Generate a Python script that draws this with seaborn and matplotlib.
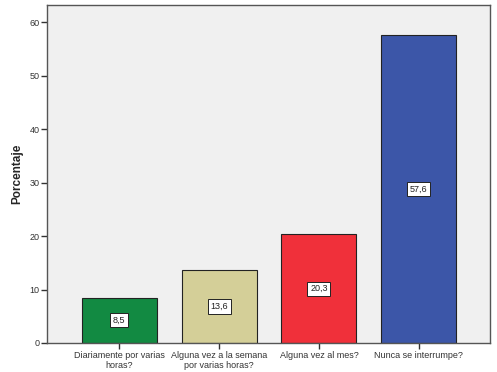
import matplotlib
matplotlib.use("Agg")
import matplotlib.pyplot as plt
import seaborn as sns
import pandas as pd

categories = [
    "Diariamente por varias\nhoras?",
    "Alguna vez a la semana\npor varias horas?",
    "Alguna vez al mes?",
    "Nunca se interrumpe?",
]
percentages = [8.5, 13.6, 20.3, 57.6]
value_labels = ["8,5", "13,6", "20,3", "57,6"]
bar_colors = ["#128a42", "#d4cf98", "#f0303a", "#3c56a8"]

df = pd.DataFrame({"categoria": categories, "porcentaje": percentages})

sns.set_style("white")
plt.rcParams["font.family"] = ["Liberation Sans", "DejaVu Sans"]

fig = plt.figure(figsize=(4.97, 3.72), dpi=100)
ax = fig.add_axes([47 / 497, (372 - 343) / 372, 443 / 497, 338 / 372])
ax.set_facecolor("#f0f0f0")

sns.barplot(data=df, x="categoria", y="porcentaje", hue="categoria",
            palette=bar_colors, saturation=1, width=0.75, edgecolor="#222222",
            linewidth=0.8, legend=False, ax=ax)

for i, (v, lab) in enumerate(zip(percentages, value_labels)):
    ax.text(i, v / 2, lab, ha="center", va="center", fontsize=6.5, color="#222222",
            bbox=dict(boxstyle="square,pad=0.3", fc="white", ec="#222222", lw=0.7))

ax.set_xlim(-0.725, 3.715)
ax.set_ylim(0, 63.2)
ax.set_yticks([0, 10, 20, 30, 40, 50, 60])
ax.set_xlabel("")
ax.set_ylabel("Porcentaje", fontsize=8.5, fontweight="bold", labelpad=4)
ax.tick_params(axis="both", labelsize=6.5, length=4, width=1, color="#333333",
               labelcolor="#333333", direction="out", pad=1.5, left=True, bottom=True)
for s in ax.spines.values():
    s.set_visible(True)
    s.set_color("#555555")
    s.set_linewidth(1)

fig.savefig("out.png", dpi=100)
